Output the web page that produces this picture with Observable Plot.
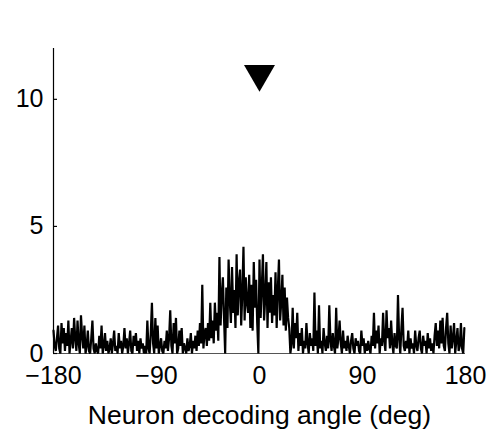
<!DOCTYPE html>
<html>
<head>
<meta charset="utf-8">
<script src="https://cdn.jsdelivr.net/npm/d3@7"></script>
<script src="https://cdn.jsdelivr.net/npm/@observablehq/plot@0.6"></script>
<style>
  html, body { margin: 0; padding: 0; background: #fff; }
  #chart svg { display: block; }
</style>
</head>
<body>
<div id="chart"></div>
<script>
// Counts, 1-degree bins starting at -180 (20 bins per row)
const counts = [
  0.9,0.3,0.1,0.6,1.1,0.2,0.0,1.2,0.4,1.0,0.1,0.8,0.3,1.3,0.0,0.5,1.0,0.2,1.4,0.6,
  0.1,1.3,0.4,0.0,1.5,0.7,0.2,1.1,0.0,0.3,0.9,0.1,0.0,0.6,1.3,0.2,0.0,0.4,0.1,0.0,
  0.7,0.2,1.1,0.0,0.3,0.8,0.1,0.5,0.0,0.2,0.6,0.0,0.4,0.9,0.1,0.3,0.0,0.8,0.2,0.5,
  0.0,0.3,1.0,0.2,0.6,0.0,0.4,0.9,0.1,0.0,0.7,0.3,0.8,0.1,0.5,0.0,0.6,0.2,0.4,0.0,
  0.3,0.0,1.3,0.2,0.0,0.8,2.0,0.4,0.0,1.4,0.2,1.1,0.0,0.3,0.6,0.1,0.0,0.5,0.2,0.9,
  0.1,0.6,1.7,0.3,0.0,1.2,0.4,1.4,0.0,0.2,0.9,0.3,1.0,0.0,0.4,0.2,0.0,0.6,0.1,0.3,
  0.8,0.0,0.5,0.2,0.7,0.1,0.9,0.3,1.2,0.4,2.7,0.2,0.8,1.0,0.3,1.2,0.5,2.0,0.6,1.3,
  0.4,2.0,0.9,1.6,0.5,3.8,1.1,2.3,3.0,1.4,0.0,2.6,1.0,3.7,2.1,1.2,3.4,1.6,2.5,1.0,
  3.9,1.5,2.8,3.3,1.1,2.4,4.2,1.3,3.0,2.0,1.6,3.1,1.0,2.7,0.9,3.6,1.8,2.9,1.2,0.0,
  3.7,1.4,2.6,3.9,1.3,2.2,3.6,1.0,2.8,1.6,3.0,1.2,2.3,1.5,3.2,1.0,2.5,3.7,1.3,2.0,
  3.1,1.1,2.6,0.9,2.2,1.4,1.0,0.0,0.4,1.8,0.2,1.2,0.6,1.6,0.1,0.8,0.3,1.0,0.0,0.5,
  0.2,1.2,0.4,0.0,0.8,0.3,0.6,0.1,2.4,0.3,0.9,0.0,1.9,0.2,0.5,0.0,1.0,0.4,0.1,0.7,
  0.2,1.9,0.5,0.1,0.8,0.3,0.0,1.8,0.2,0.6,1.3,0.4,0.0,0.9,0.2,0.5,0.1,0.7,0.3,0.0,
  0.5,0.8,0.2,0.0,0.6,0.3,0.5,0.1,0.0,0.9,0.3,0.6,0.0,0.4,0.1,0.5,0.2,0.0,0.7,0.3,
  1.6,0.2,0.9,0.4,1.1,0.0,0.6,0.3,1.6,0.5,0.1,1.7,0.6,1.0,0.2,1.3,0.4,0.0,0.8,0.3,
  0.2,2.3,0.6,0.0,1.0,1.8,0.3,0.1,0.5,0.2,0.9,0.0,0.6,0.2,0.4,0.0,0.9,0.3,0.1,0.6,
  0.9,0.2,0.0,0.7,0.3,0.5,0.0,0.8,0.2,0.6,0.1,0.4,0.0,0.7,1.2,0.3,0.9,0.2,1.3,0.4,
  1.4,0.3,0.1,1.0,1.6,0.4,0.0,1.1,0.2,0.6,1.2,0.0,0.5,1.0,0.1,0.3,1.2,0.2,0.0,1.0
];
const startAngle = -180;
const xTicks = [-180, -90, 0, 90, 180];
const yTicks = [0, 5, 10];
const markerAngle = [0];
const markerLevel = [11];
const xLabel = "Neuron decoding angle (deg)";

const series = counts.map((c, i) => ({angle: startAngle + i, count: c}));
const marker = markerAngle.map((a, i) => ({angle: a, level: markerLevel[i]}));
const fmt = d => d < 0 ? "\u2212" + Math.abs(d) : String(d);

const chart = Plot.plot({
  width: 497,
  height: 435,
  marginLeft: 53,
  marginRight: 32,
  marginTop: 48,
  marginBottom: 82,
  style: {fontFamily: "'Liberation Sans', Arial, sans-serif", fontSize: "25px", color: "#000", background: "#fff"},
  x: {domain: [-180, 180]},
  y: {domain: [0, 12]},
  marks: [
    Plot.ruleY([0], {stroke: "#555", strokeWidth: 1.2}),
    Plot.ruleX([-180], {stroke: "#000", strokeWidth: 1.2}),
    Plot.axisY({ticks: yTicks, tickSize: -4, tickPadding: 14, tickFormat: fmt, fontSize: 25, label: null, strokeWidth: 1.2}),
    Plot.axisX({ticks: xTicks, tickSize: 0, tickPadding: 13, tickFormat: fmt, fontSize: 25, label: null}),
    Plot.text([xLabel], {frameAnchor: "bottom", dy: 52, lineAnchor: "top", fontSize: 26.5, fill: "#000"}),
    Plot.line(series, {x: "angle", y: "count", stroke: "#000", strokeWidth: 2.2, strokeLinejoin: "miter"}),
    Plot.dot(marker, {x: "angle", y: "level", symbol: "triangle", rotate: 180, r: 11.5, fill: "#000", stroke: "none"})
  ]
});
document.getElementById("chart").appendChild(chart);
</script>
</body>
</html>
